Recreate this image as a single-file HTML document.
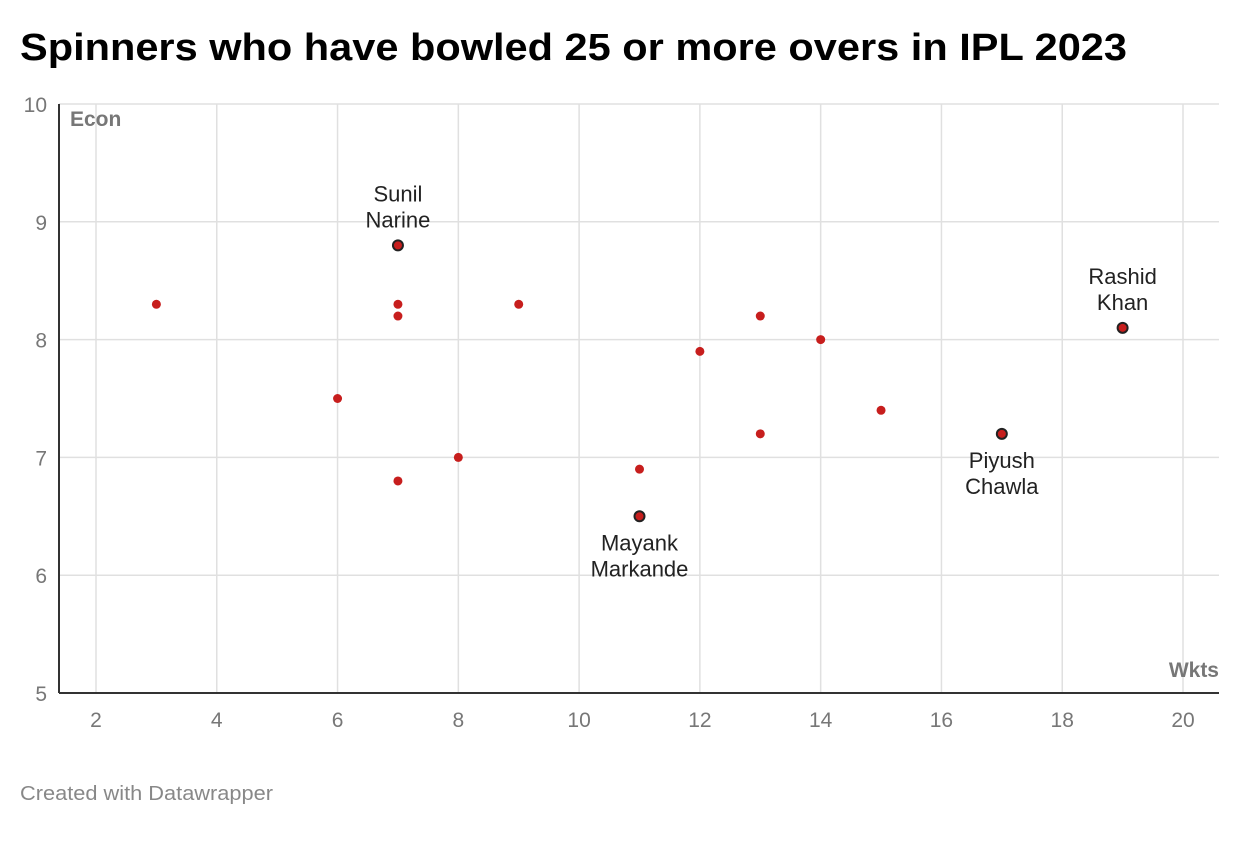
<!DOCTYPE html>
<html><head><meta charset="utf-8"><style>
body{margin:0;background:#fff;font-family:"Liberation Sans",Arial,sans-serif}
</style></head><body>
<svg width="1240" height="840" id="c">
<text x="20" y="60" font-size="38" font-weight="bold" fill="#000" textLength="1107" lengthAdjust="spacingAndGlyphs">Spinners who have bowled 25 or more overs in IPL 2023</text>
<text x="20" y="800" font-size="20" fill="#888" textLength="253" lengthAdjust="spacingAndGlyphs">Created with Datawrapper</text>
<g id="grid"></g><g id="marks"></g>
</svg>
<script>
const wkts=[3,7,7,7,9,6,8,7,11,11,12,13,13,14,15,17,19];
const econ=[8.3,8.8,8.3,8.2,8.3,7.5,7.0,6.8,6.9,6.5,7.9,8.2,7.2,8.0,7.4,7.2,8.1];
const labels=["","Sunil|Narine","","","","","","","","Mayank|Markande","","","","","","Piyush|Chawla","Rashid|Khan"];
const labelPos=["","above","","","","","","","","below","","","","","","below","above"];
const xTicks=[2,4,6,8,10,12,14,16,18,20];
const yTicks=[5,6,7,8,9,10];
const ns="http://www.w3.org/2000/svg";
const x=v=>96+(v-2)*(1183-96)/18;
const y=v=>693-(v-5)*(693-104)/5;
function mk(t,a,p){const e=document.createElementNS(ns,t);for(const k in a)e.setAttribute(k,a[k]);p.appendChild(e);return e;}
const g=document.getElementById('grid'),m=document.getElementById('marks');
yTicks.forEach(v=>{
 if(v>5){const l=mk('line',{x1:59,x2:1219,y1:y(v),y2:y(v),stroke:'#e0e0e0','stroke-width':1.5},g);
 
 }
 const t=mk('text',{x:47,y:y(v)+8,'font-size':21,fill:'#777','text-anchor':'end'},g);t.textContent=v;
 
 
});
xTicks.forEach(v=>{
 const l=mk('line',{x1:x(v),x2:x(v),y1:104,y2:693,stroke:'#e0e0e0','stroke-width':1.5},g);
 
 
 const t=mk('text',{x:x(v),y:727,'font-size':21,fill:'#777','text-anchor':'middle'},g);t.textContent=v;
 
 
});
const ax=mk('line',{x1:59,x2:1219,y1:693,y2:693,stroke:'#333','stroke-width':2},g);


const ay=mk('line',{x1:59,x2:59,y1:104,y2:693,stroke:'#333','stroke-width':2},g);


const yt=mk('text',{x:70,y:126,'font-size':21,'font-weight':'bold',fill:'#777'},g);yt.textContent='Econ';


const xt=mk('text',{x:1219,y:677,'font-size':21,'font-weight':'bold',fill:'#777','text-anchor':'end'},g);xt.textContent='Wkts';


wkts.forEach((w,i)=>{
 const hl=labels[i]!=="";
 const c=mk('circle',{cx:x(w),cy:y(econ[i]),r:hl?5:4.5,fill:'#c71e1d',stroke:hl?'#222':'none','stroke-width':2},m);
 
 
 if(hl){
  const lines=labels[i].split('|');
  const base=labelPos[i]==='above'?y(econ[i])-44:y(econ[i])+34;
  lines.forEach((s,j)=>{
   const t=mk('text',{x:x(w),y:base+j*26,'font-size':22,fill:'#222','text-anchor':'middle'},m);t.textContent=s;
   
   
  });
 }
});
</script>
</body></html>
